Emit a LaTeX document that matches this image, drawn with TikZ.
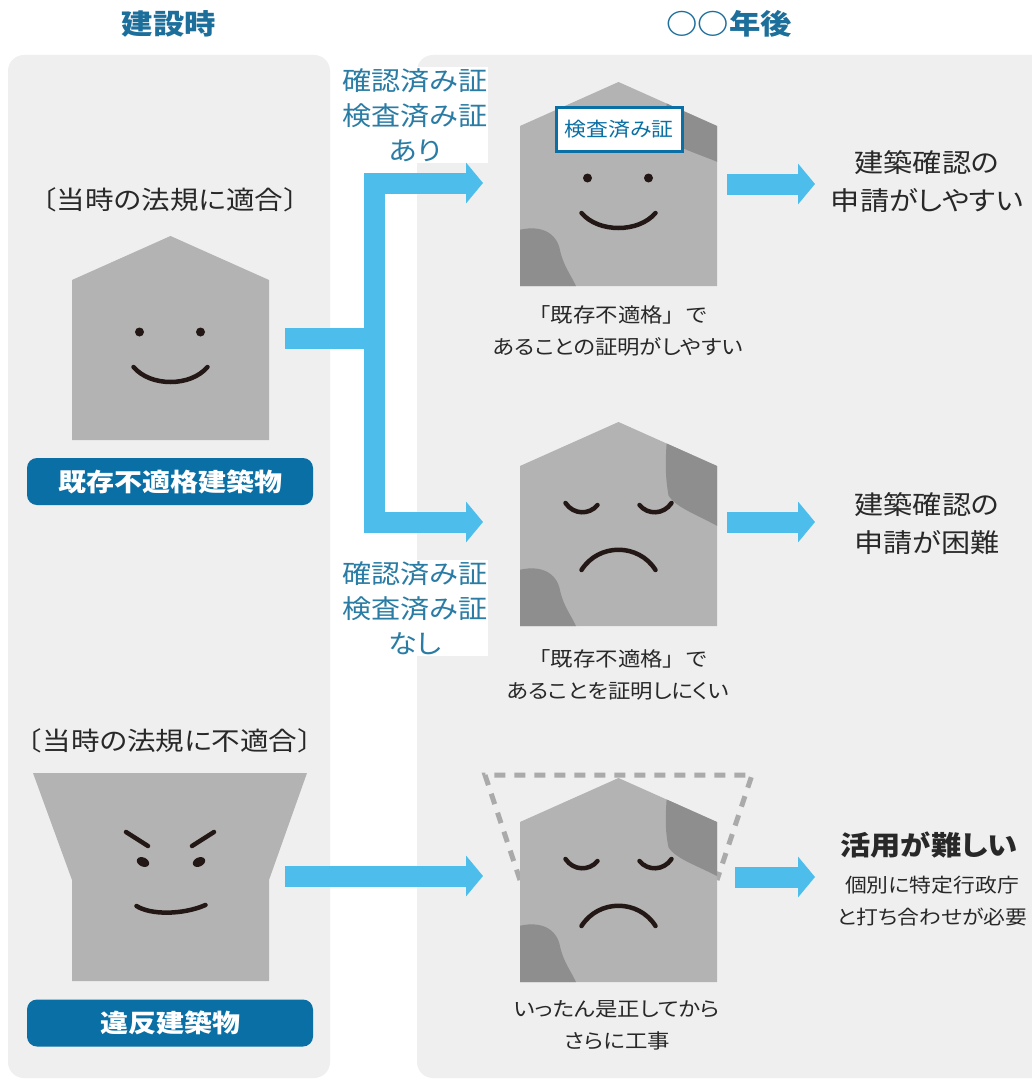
\documentclass[tikz,border=0pt]{standalone}
\usepackage{fontspec}
\setmainfont{Noto Sans CJK JP}[FakeStretch=1.12,RawFeature=+palt]
% same face with full-width brackets (no proportional spacing)
\newfontfamily\fullwidth{Noto Sans CJK JP}[FakeStretch=1.12]
\usetikzlibrary{arrows.meta}

\definecolor{panelgray}{RGB}{239,239,239}
\definecolor{housegray}{RGB}{179,179,179}
\definecolor{patchgray}{RGB}{142,142,142}
\definecolor{flowblue}{RGB}{77,190,236}
\definecolor{tagblue}{RGB}{10,111,164}
\definecolor{headblue}{RGB}{28,110,155}
\definecolor{notetext}{RGB}{42,124,164}
\definecolor{ink}{RGB}{40,40,40}
\definecolor{faceink}{RGB}{35,24,21}
\definecolor{dashgray}{RGB}{170,170,170}

% house outline, apex at the local origin
\newcommand{\houseoutline}{(-98.5,44) -- (0,0) -- (98.5,44) -- (98.5,204) -- (-98.5,204) -- cycle}
\newcommand{\plainhouse}{\fill[housegray] \houseoutline;}
% weathered house: #1 = depth of the upper stain on the right wall
\newcommand{\agedhouse}[1]{%
  \fill[housegray] \houseoutline;
  \begin{scope}
    \clip \houseoutline;
    \fill[patchgray] (49,10) .. controls (47,35) and (46,50) .. (50,#1*0.68)
      .. controls (58,#1*0.8) and (80,#1*0.86) .. (106,#1) -- (106,-5) -- cycle;
    \fill[patchgray] (-106,150) .. controls (-84,142) and (-64,147) .. (-59,166)
      .. controls (-55,186) and (-46,194) .. (-40,210) -- (-106,210) -- cycle;
  \end{scope}}
\newcommand{\happyface}{%
  \fill[faceink] (-31,96) circle (4.5pt) (30,96) circle (4.5pt);
  \draw[face] (-37,131) .. controls (-20,151) and (20,151) .. (37,131);}
\newcommand{\sadface}{%
  \draw[face] (-53,81) .. controls (-45,93) and (-29,93) .. (-21,83);
  \draw[face] (21,83) .. controls (29,93) and (45,93) .. (53,81);
  \draw[face] (-37,148) .. controls (-20,121) and (20,121) .. (37,148);}

\begin{document}
\begin{tikzpicture}[x=1pt,y=-1pt,
  flow/.style={draw=flowblue, line width=21pt, -{Triangle[length=17pt,width=40pt]}},
  flowline/.style={draw=flowblue, line width=21pt},
  face/.style={draw=faceink, line width=4.5pt, line cap=round},
  heading/.style={text=headblue, font=\fontsize{28}{30}\selectfont\bfseries},
  cond/.style={text=ink, font=\fontsize{25.5}{30}\selectfont},
  tag/.style={fill=tagblue, rounded corners=10pt, text=white,
    font=\fontsize{25}{30}\selectfont\bfseries, minimum width=286pt, minimum height=47pt},
  note/.style={text=notetext, fill=white, align=center, inner sep=1pt,
    font=\fontsize{26}{35}\selectfont},
  result/.style={text=ink, align=center, font=\fontsize{26}{38}\selectfont},
  caption/.style={text=ink, align=center, font=\fontsize{20}{32}\selectfont}]

\useasboundingbox (0,0) rectangle (1032,1081);
\fill[white] (0,0) rectangle (1032,1081);

% two column panels
\fill[panelgray, rounded corners=16pt] (8,55) rectangle (330,1078);
\fill[panelgray, rounded corners=16pt] (417,55) rectangle (1060,1078);

% column headings
\node[heading] (headthen) at (169,24) {建設時};
\node[heading] (headlater) at (729,24) {○○年後};

% left column: conforming building
\node[cond] (condok) at (170,200) {{\fullwidth 〔}当時の法規に適合{\fullwidth 〕}};
\begin{scope}[shift={(170.5,236)}]
  \plainhouse
  \happyface
\end{scope}
\node[tag] (tagok) at (170,481.5) {既存不適格建築物};

% left column: non-conforming building
\node[cond] (condng) at (170,741) {{\fullwidth 〔}当時の法規に不適合{\fullwidth 〕}};
\begin{scope}[shift={(170.5,773)}]
  \fill[housegray] (-137.5,0) -- (136.5,0) -- (98.5,107) -- (98.5,208)
    -- (-98.5,208) -- (-98.5,107) -- cycle;
  \draw[face] (-44.5,59) -- (-22.5,73);
  \draw[face] (21.5,73) -- (43.5,59);
  \fill[faceink, rotate around={-25:(-27.5,89)}] (-27.5,89) ellipse (6.5pt and 4.5pt);
  \fill[faceink, rotate around={25:(28.5,89)}] (28.5,89) ellipse (6.5pt and 4.5pt);
  \draw[face] (-34,133) .. controls (-20,142) and (12,142) .. (35,132);
\end{scope}
\node[tag] (tagng) at (170,1023) {違反建築物};

% branch labels
\node[note] (noteyes) at (415,115) {確認済み証\\検査済み証\\あり};
\node[note] (noteno) at (415,608) {確認済み証\\検査済み証\\なし};

% flow arrows
\coordinate (forkin) at (285,338);
\coordinate (fork) at (374,338);
\coordinate (upin) at (483,183);
\coordinate (downin) at (483,522);
\coordinate (ngout) at (285,876);
\coordinate (ngin) at (483,876);
\draw[flowline] (forkin) -- (fork);
\draw[flow] (fork) |- (upin);
\draw[flow] (fork) |- (downin);
\draw[flow] (ngout) -- (ngin);

% right column: certified building
\begin{scope}[shift={(618.5,82)}]
  \agedhouse{83}
  \happyface
\end{scope}
\node[draw=tagblue, line width=3pt, fill=white, text=tagblue, minimum width=126pt,
  minimum height=44pt, inner sep=0pt, font=\fontsize{19.5}{22}\selectfont] (cert) at (619,129) {検査済み証};
\node[caption] (capyes) at (618,331) {{\fullwidth 「既存不適格」で}\\あることの証明がしやすい};

% right column: building without certificates
\begin{scope}[shift={(618.5,422)}]
  \agedhouse{108}
  \sadface
\end{scope}
\node[caption] (capno) at (618,675) {{\fullwidth 「既存不適格」で}\\あることを証明しにくい};

% right column: building needing correction
\draw[dashgray, line width=5pt, dash pattern=on 11pt off 9pt] (520,880) -- (485,775) -- (752,775) -- (717,880);
\begin{scope}[shift={(618.5,778)}]
  \agedhouse{102}
  \sadface
\end{scope}
\node[caption] (capfix) at (617,1025) {いったん是正してから\\さらに工事};

% outcomes
\coordinate (yesout) at (727,184);
\coordinate (yesres) at (815,184);
\coordinate (noout) at (727,522);
\coordinate (nores) at (815,522);
\coordinate (fixout) at (735,877);
\coordinate (fixres) at (815,877);
\draw[flow] (yesout) -- (yesres);
\draw[flow] (noout) -- (nores);
\draw[flow] (fixout) -- (fixres);

\node[result] (resyes) at (927,182) {建築確認の\\申請がしやすい};
\node[result] (resno) at (927,524) {建築確認の\\申請が困難};
\node[result, font=\fontsize{27}{30}\selectfont\bfseries] (reshard) at (929,845) {活用が難しい};
\node[caption, font=\fontsize{19.5}{32}\selectfont] (resdetail) at (932,901) {個別に特定行政庁\\と打ち合わせが必要};

\end{tikzpicture}
\end{document}
